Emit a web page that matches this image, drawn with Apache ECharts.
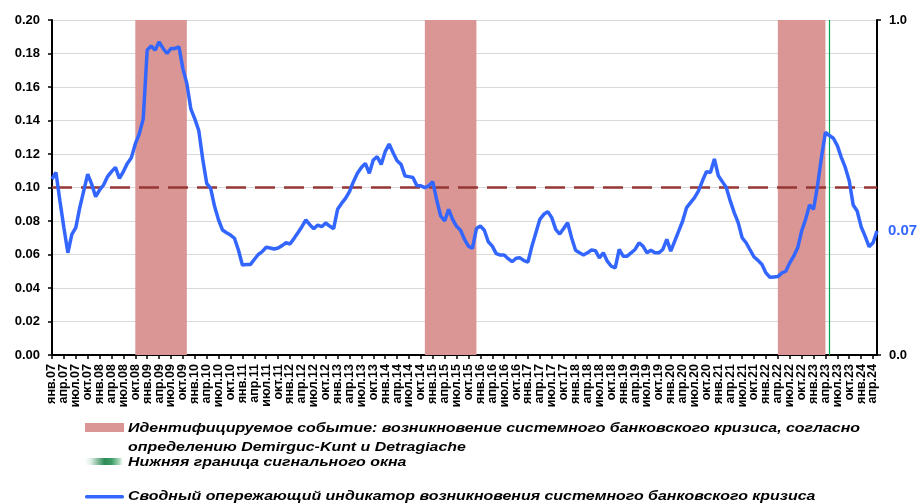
<!DOCTYPE html>
<html>
<head>
<meta charset="utf-8">
<script src="https://cdn.jsdelivr.net/npm/echarts@6.0.0/dist/echarts.min.js"></script>
<style>
  html, body { margin: 0; padding: 0; background: #fff; }
  #chart { width: 921px; height: 503px; }
</style>
</head>
<body>
<div id="chart"></div>
<script>
// подписи месяцев
const monthNames = ['янв', 'фев', 'мар', 'апр', 'май', 'июн', 'июл', 'авг', 'сен', 'окт', 'ноя', 'дек'];
const firstYear = 2007;

// сводный опережающий индикатор, янв.07 - май.24
const indicator = [
  0.105, 0.109, 0.092, 0.076, 0.061, 0.072, 0.076, 0.088, 0.098, 0.108, 0.102, 0.0945,
  0.0985, 0.1015, 0.1065, 0.1095, 0.112, 0.1055, 0.1095, 0.1144, 0.1178, 0.126, 0.132, 0.141,
  0.182, 0.1845, 0.182, 0.187, 0.183, 0.180, 0.183, 0.183, 0.184, 0.171, 0.162, 0.147,
  0.141, 0.134, 0.117, 0.1025, 0.0995, 0.0886, 0.0806, 0.0746, 0.073, 0.0716, 0.0697, 0.0627,
  0.0537, 0.054, 0.054, 0.057, 0.060, 0.0617, 0.0643, 0.0639, 0.0633, 0.0639, 0.0653, 0.067,
  0.0663, 0.0695, 0.073, 0.0766, 0.0806, 0.0778, 0.0754, 0.0776, 0.0766, 0.0788, 0.077, 0.0754,
  0.087, 0.0905, 0.0935, 0.0975, 0.1035, 0.1085, 0.112, 0.1144, 0.1085, 0.1164, 0.1184, 0.1138,
  0.1214, 0.126, 0.1208, 0.116, 0.1138, 0.1069, 0.1065, 0.106, 0.101, 0.101, 0.0999, 0.101,
  0.1035, 0.0925, 0.083, 0.080, 0.087, 0.081, 0.0768, 0.0745, 0.069, 0.065, 0.0637, 0.0755,
  0.077, 0.0745, 0.0676, 0.065, 0.0605, 0.0597, 0.0597, 0.0575, 0.0557, 0.0578, 0.058, 0.0563,
  0.0555, 0.065, 0.073, 0.081, 0.084, 0.0856, 0.082, 0.075, 0.0722, 0.0755, 0.079, 0.070,
  0.0625, 0.061, 0.0597, 0.061, 0.0627, 0.0623, 0.058, 0.061, 0.056, 0.053, 0.052, 0.063,
  0.059, 0.059, 0.061, 0.063, 0.067, 0.065, 0.061, 0.0625, 0.061, 0.061, 0.063, 0.069,
  0.062, 0.068, 0.074, 0.080, 0.088, 0.091, 0.094, 0.098, 0.104, 0.1095, 0.109, 0.117,
  0.107, 0.1035, 0.100, 0.092, 0.085, 0.079, 0.070, 0.067, 0.0627, 0.0585, 0.0565, 0.054,
  0.049, 0.0464, 0.0466, 0.0468, 0.049, 0.050, 0.055, 0.059, 0.064, 0.074, 0.081, 0.0896,
  0.087, 0.101, 0.118, 0.133, 0.131, 0.1294, 0.125, 0.118, 0.112, 0.104, 0.0896, 0.086,
  0.0766, 0.071, 0.0647, 0.067, 0.074
];

// пороговое значение
const threshold = 0.098;

// системные банковские кризисы
const crisisStart = ['окт.08', 'ноя.14', 'апр.22'];
const crisisEnd = ['ноя.09', 'дек.15', 'апр.23'];

// нижняя граница сигнального окна
const signalWindow = 'май.23';

const legendText = [
  'Идентифицируемое событие: возникновение системного банковского кризиса, согласно',
  'определению Demirguc-Kunt и Detragiache',
  'Нижняя граница сигнального окна',
  'Сводный опережающий индикатор возникновения системного банковского кризиса'
];

const months = indicator.map(function (v, i) {
  const yy = String((firstYear + Math.floor(i / 12)) % 100).padStart(2, '0');
  return monthNames[i % 12] + '.' + yy;
});

const fontFamily = '"Liberation Sans", Arial, sans-serif';

// легенда в оригинале растянута по горизонтали
const legendFont = 'italic bold 12.5px ' + fontFamily;
const measureCtx = document.createElement('canvas').getContext('2d');
measureCtx.font = legendFont;
const stretch = 732 / measureCtx.measureText(legendText[0]).width;

function legendLabel(text, y) {
  return {
    type: 'text',
    x: 128,
    y: y,
    scaleX: stretch,
    silent: true,
    style: {
      text: text,
      font: legendFont,
      fill: '#000',
      align: 'left',
      verticalAlign: 'middle',
      textAlign: 'left',
      textVerticalAlign: 'middle'
    }
  };
}

// подпись каждого третьего месяца
function everyQuarter(index) {
  return index % 3 === 0;
}

const chart = echarts.init(document.getElementById('chart'), null, {renderer: 'canvas'});

const option = {
  animation: false,
  textStyle: {fontFamily: fontFamily},
  grid: {left: 52, right: 44, top: 20, bottom: 148},
  xAxis: {
    type: 'category',
    data: months,
    boundaryGap: false,
    axisLine: {lineStyle: {color: '#000', width: 2}},
    axisTick: {interval: everyQuarter, length: 4, lineStyle: {color: '#000', width: 1.5}},
    axisLabel: {
      interval: 0,
      formatter: function (value, index) {
        return index % 3 === 0 ? value : '';
      },
      showMinLabel: true,
      showMaxLabel: true,
      hideOverlap: false,
      rotate: 90,
      margin: 9,
      color: '#000',
      fontSize: 12.5,
      fontWeight: 'bold',
      fontFamily: fontFamily
    },
    splitLine: {show: false}
  },
  yAxis: [
    {
      type: 'value',
      min: 0,
      max: 0.2,
      interval: 0.02,
      axisLine: {show: true, lineStyle: {color: '#000', width: 2}},
      axisTick: {show: true, length: 4, lineStyle: {color: '#000', width: 1.5}},
      splitLine: {lineStyle: {color: '#d9d9d9', width: 1}},
      axisLabel: {
        formatter: function (v) { return v.toFixed(2); },
        margin: 12,
        color: '#000',
        fontSize: 13,
        fontWeight: 'bold',
        fontFamily: fontFamily
      }
    },
    {
      type: 'value',
      position: 'right',
      min: 0,
      max: 1,
      interval: 1,
      axisLine: {show: true, lineStyle: {color: '#000', width: 2}},
      axisTick: {show: true, length: 4, lineStyle: {color: '#000', width: 1.5}},
      splitLine: {show: false},
      axisLabel: {
        formatter: function (v) { return v.toFixed(1); },
        margin: 12,
        color: '#000',
        fontSize: 13,
        fontWeight: 'bold',
        fontFamily: fontFamily
      }
    }
  ],
  series: [
    {
      name: 'Сводный опережающий индикатор',
      type: 'line',
      data: indicator,
      z: 10,
      showSymbol: false,
      symbol: 'none',
      silent: true,
      lineStyle: {color: '#3366FF', width: 3.5},
      itemStyle: {color: '#3366FF'},
      endLabel: {
        show: true,
        distance: 11,
        formatter: function (p) { return p.value.toFixed(2); },
        color: '#3366FF',
        fontSize: 15,
        fontWeight: 'bold',
        fontFamily: fontFamily
      },
      markArea: {
        silent: true,
        z: 1,
        itemStyle: {color: '#D99694', opacity: 1},
        data: crisisStart.map(function (s, k) {
          return [{xAxis: months.indexOf(s)}, {xAxis: months.indexOf(crisisEnd[k])}];
        })
      },
      markLine: {
        silent: true,
        z: 5,
        symbol: ['none', 'none'],
        label: {show: false},
        data: [
          {yAxis: threshold, lineStyle: {color: '#953735', width: 2.5, type: [20, 9]}},
          {xAxis: months.indexOf(signalWindow), lineStyle: {color: '#00A550', width: 1.2, type: 'solid'}}
        ]
      }
    }
  ],
  graphic: [
    {type: 'rect', x: 85, y: 423, shape: {width: 39, height: 9}, style: {fill: '#D99694'}, silent: true},
    legendLabel(legendText[0], 428.8),
    legendLabel(legendText[1], 447.1),
    {
      type: 'rect', x: 85, y: 458, shape: {width: 39, height: 7}, silent: true,
      style: {
        fill: new echarts.graphic.LinearGradient(0, 0, 1, 0, [
          {offset: 0, color: 'rgba(46,139,87,0)'},
          {offset: 0.15, color: 'rgba(46,139,87,0.15)'},
          {offset: 0.5, color: '#2E8B57'},
          {offset: 0.68, color: '#3C9C64'},
          {offset: 0.9, color: '#B8E0C6'},
          {offset: 1, color: 'rgba(255,255,255,0)'}
        ])
      }
    },
    legendLabel(legendText[2], 462.1),
    {type: 'rect', x: 85, y: 495, shape: {width: 39, height: 3.5, r: 1.5}, style: {fill: '#3366FF'}, silent: true},
    legendLabel(legendText[3], 496.4)
  ]
};

chart.setOption(option);
</script>
</body>
</html>
